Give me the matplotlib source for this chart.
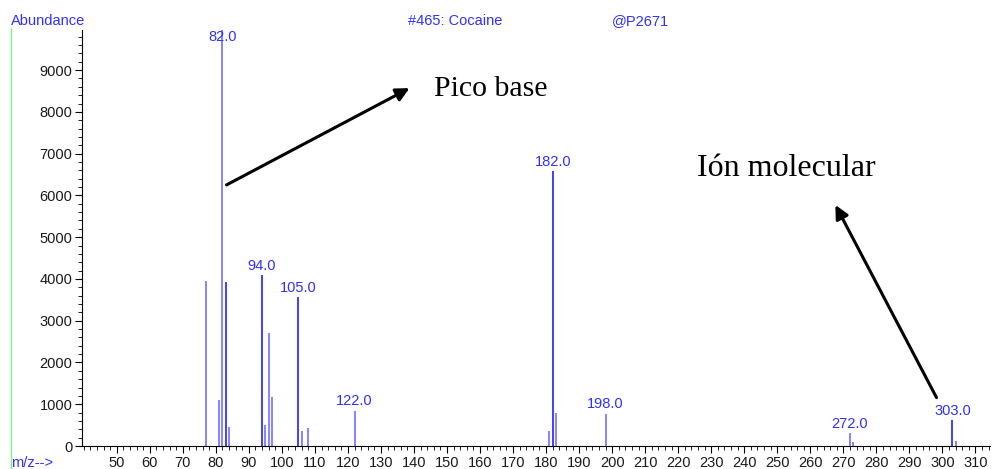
import matplotlib
matplotlib.use("Agg")
import matplotlib.pyplot as plt
from matplotlib.ticker import MultipleLocator

# cocaine EI mass spectrum
mz = [77, 81, 82, 83, 84, 94, 95, 96, 97, 105, 106, 108, 122,
      181, 182, 183, 198, 272, 273, 303, 304]
abundance = [3950, 1100, 9950, 3930, 450, 4090, 500, 2700, 1170, 3560, 360, 430, 840,
             360, 6580, 790, 770, 310, 100, 620, 130]
labelled = [82, 94, 105, 122, 182, 198, 272, 303]
dark = [83, 94, 105, 182, 303]

plt.rcParams['font.family'] = ['Liberation Sans', 'DejaVu Sans']

fig = plt.figure(figsize=(9.92, 4.69), dpi=100)
ax = fig.add_axes([0.0827, 0.049, 0.9153, 0.887])

for m, a in zip(mz, abundance):
    col = '#2020ff' if m in dark else '#7070ff'
    ax.vlines(m, 0, a, color=col, lw=1.2)
    if m in labelled:
        ax.text(m, min(a + 60, 9620), f'{m:.1f}', color='#3030ff', fontsize=10.5,
                ha='center', va='bottom')

ax.set_xlim(39.5, 314.4)
ax.set_ylim(0, 9960)
ax.xaxis.set_minor_locator(MultipleLocator(2))
ax.yaxis.set_minor_locator(MultipleLocator(200))
ax.set_xticks(range(50, 320, 10))
ax.set_yticks(range(0, 10000, 1000))
ax.tick_params(which='major', length=5, labelsize=10.5, labelcolor='#1a1a1a', pad=2)
ax.tick_params(which='minor', length=3)
for s in ['top', 'right']:
    ax.spines[s].set_visible(False)

fig.text(0.011, 0.955, 'Abundance', color='#3030ff', fontsize=10.5, va='center')
fig.text(0.011, 0.012, 'm/z-->', color='#3030ff', fontsize=10.5, va='center')
fig.text(0.411, 0.955, '#465: Cocaine', color='#3030ff', fontsize=10.5, va='center')
fig.text(0.617, 0.955, '@P2671', color='#3030ff', fontsize=10.5, va='center')
fig.add_artist(plt.Line2D([0.011, 0.011], [0, 0.94], color='#88ee88', lw=1))

# annotations
ax.annotate('', xy=(139.4, 8600), xytext=(82.5, 6220),
            arrowprops=dict(arrowstyle='-|>', color='black', lw=2.2, mutation_scale=20))
ax.annotate('', xy=(267.2, 5830), xytext=(298.6, 1100),
            arrowprops=dict(arrowstyle='-|>', color='black', lw=2.2, mutation_scale=20))
fig.text(0.438, 0.81, 'Pico base', family='Liberation Serif', fontsize=21.5, va='center')
fig.text(0.703, 0.641, 'Ión molecular', family='Liberation Serif', fontsize=23, va='center')

fig.savefig('out.png', dpi=100)
